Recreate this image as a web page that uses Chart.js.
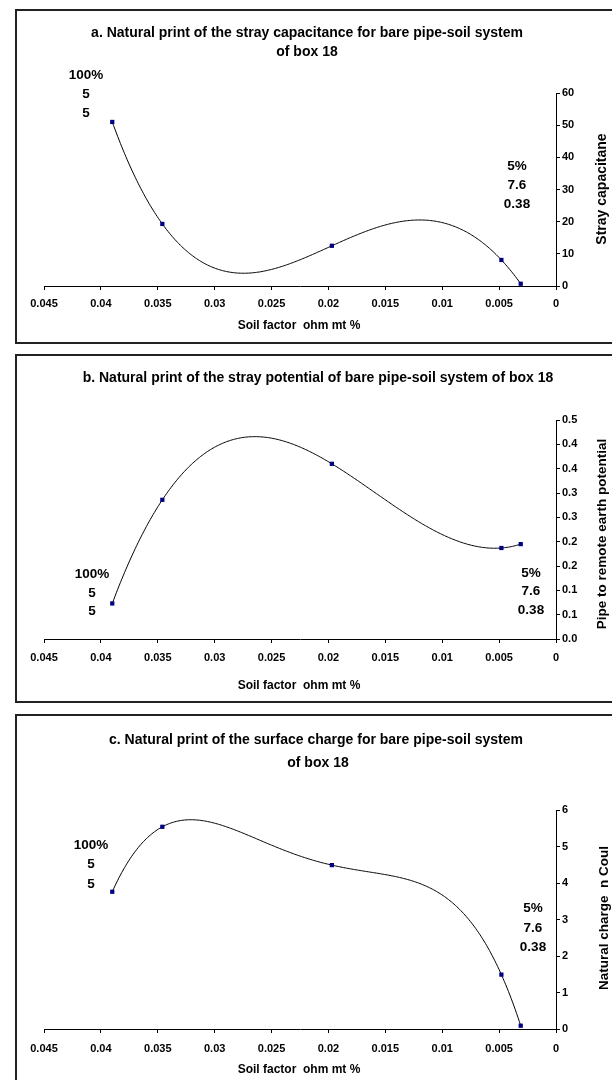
<!DOCTYPE html>
<html>
<head>
<meta charset="utf-8">
<script src="https://cdn.jsdelivr.net/npm/chart.js@4.4.0/dist/chart.umd.min.js"></script>
<style>
  body { margin: 0; width: 612px; height: 1080px; position: relative; overflow: hidden; background: #fff;
         font-family: "Liberation Sans", Arial, sans-serif; }
  .box { position: absolute; left: 15px; width: 620px; border: 2px solid #222; box-sizing: border-box; }
  canvas { position: absolute; left: 0; }
  .t { position: absolute; font-weight: bold; color: #000; white-space: pre; transform: translate(-50%, -50%); }
  .v { transform: translate(-50%, -50%) rotate(-90deg); }
</style>
</head>
<body>
<div class="box" style="top:9px;height:335px"></div>
<div class="box" style="top:354px;height:349px"></div>
<div class="box" style="top:714px;height:400px"></div>
<canvas id="chartA" width="612" height="334" style="top:9px"></canvas>
<canvas id="chartB" width="612" height="349" style="top:354px"></canvas>
<canvas id="chartC" width="612" height="366" style="top:714px"></canvas>
<script>
// soil factor (ohm mt %) for the five boxes measured
const soilFactor = [0.039, 0.0346, 0.0197, 0.0048, 0.0031];
const strayCapacitance = [51, 19.3, 12.5, 8.1, 0.7];
const strayPotential = [0.073, 0.286, 0.36, 0.187, 0.195];
const surfaceCharge = [3.76, 5.54, 4.49, 1.49, 0.09];

const xTickLabels = ["0", "0.005", "0.01", "0.015", "0.02", "0.025", "0.03", "0.035", "0.04", "0.045"];
const yTicksA = ["0", "10", "20", "30", "40", "50", "60"];
const yTicksB = ["0.0", "0.1", "0.1", "0.2", "0.2", "0.3", "0.3", "0.4", "0.4", "0.5"];
const yTicksC = ["0", "1", "2", "3", "4", "5", "6"];

const tickFont = { family: "'Liberation Sans', Arial, sans-serif", size: 11, weight: "bold" };

// Excel style polynomial trendline through the points
const trendline = {
  id: "trendline",
  beforeDatasetsDraw(chart) {
    const pts = chart.data.datasets[0].data;
    const poly = (x) => {
      let s = 0;
      for (let i = 0; i < pts.length; i++) {
        let t = pts[i].y;
        for (let j = 0; j < pts.length; j++) {
          if (j !== i) t *= (x - pts[j].x) / (pts[i].x - pts[j].x);
        }
        s += t;
      }
      return s;
    };
    const xs = pts.map((p) => p.x);
    const lo = Math.min(...xs), hi = Math.max(...xs);
    const sx = chart.scales.x, sy = chart.scales.y;
    const ctx = chart.ctx;
    ctx.save();
    ctx.beginPath();
    for (let k = 0; k <= 300; k++) {
      const x = lo + (hi - lo) * k / 300;
      const px = sx.getPixelForValue(x), py = sy.getPixelForValue(poly(x));
      if (k === 0) ctx.moveTo(px, py); else ctx.lineTo(px, py);
    }
    ctx.strokeStyle = "#000";
    ctx.lineWidth = 1;
    ctx.stroke();
    ctx.restore();
  },
};

function makeChart(id, values, yMax, yStep, yLabels, top, xHeight, tickPad) {
  new Chart(document.getElementById(id), {
    type: "scatter",
    data: {
      datasets: [{
        data: soilFactor.map((x, i) => ({ x: x, y: values[i] })),
        showLine: false,
        pointStyle: "rect",
        pointRadius: 3,
        pointHoverRadius: 3,
        pointBorderWidth: 0,
        backgroundColor: "#000080",
        borderColor: "#000080",
      }],
    },
    options: {
      responsive: false,
      animation: false,
      events: [],
      layout: { padding: { left: 44, top: top, right: 0, bottom: 0 } },
      plugins: { legend: { display: false }, tooltip: { enabled: false } },
      scales: {
        x: {
          type: "linear",
          reverse: true,
          min: 0,
          max: 0.045,
          ticks: {
            stepSize: 0.005,
            maxRotation: 0,
            autoSkip: false,
            padding: tickPad,
            color: "#000",
            font: tickFont,
            callback: (v) => xTickLabels[Math.round(v / 0.005)],
          },
          grid: { drawOnChartArea: false, drawTicks: true, tickLength: 4, color: "#000" },
          border: { display: true, color: "#000", width: 1 },
          afterFit(s) { s.height = xHeight; s.paddingLeft = 0; s.paddingRight = 0; },
        },
        y: {
          position: "right",
          min: 0,
          max: yMax,
          ticks: {
            stepSize: yStep,
            autoSkip: false,
            padding: 2,
            color: "#000",
            font: tickFont,
            callback: (v) => yLabels[Math.round(v / yStep)],
          },
          grid: { drawOnChartArea: false, drawTicks: true, tickLength: 4, color: "#000" },
          border: { display: true, color: "#000", width: 1 },
          afterFit(s) { s.width = 56; s.paddingTop = 0; s.paddingBottom = 0; },
        },
      },
    },
    plugins: [trendline],
  });
}

makeChart("chartA", strayCapacitance, 60, 10, yTicksA, 84, 57, 7);
makeChart("chartB", strayPotential, 0.45, 0.05, yTicksB, 66, 64, 8);
makeChart("chartC", surfaceCharge, 6, 1, yTicksC, 96, 51, 9);

function addText(str, x, y, size, vertical) {
  const d = document.createElement("div");
  d.className = vertical ? "t v" : "t";
  d.textContent = str;
  d.style.left = x + "px";
  d.style.top = y + "px";
  d.style.fontSize = size + "px";
  document.body.appendChild(d);
}

// titles
addText("a. Natural print of the stray capacitance for bare pipe-soil system", 307, 32, 14);
addText("of box 18", 307, 51, 14);
addText("b. Natural print of the stray potential of bare pipe-soil system of box 18", 318, 377, 14);
addText("c. Natural print of the surface charge for bare pipe-soil system", 316, 739, 14);
addText("of box 18", 318, 762, 14);

// axis titles
addText("Soil factor  ohm mt %", 299, 325, 12);
addText("Soil factor  ohm mt %", 299, 685, 12);
addText("Soil factor  ohm mt %", 299, 1069, 12);
addText("Stray capacitane", 601, 189, 14, true);
addText("Pipe to remote earth potential", 601, 534, 13.5, true);
addText("Natural charge  n Coul", 603, 918, 13.5, true);

// end labels: percentage and soil factors
[["100%", 86, 74], ["5", 86, 93], ["5", 86, 112], ["5%", 517, 165], ["7.6", 517, 184], ["0.38", 517, 203],
 ["100%", 92, 573], ["5", 92, 592], ["5", 92, 610], ["5%", 531, 572], ["7.6", 531, 590], ["0.38", 531, 609],
 ["100%", 91, 844], ["5", 91, 863], ["5", 91, 883], ["5%", 533, 907], ["7.6", 533, 927], ["0.38", 533, 946]]
  .forEach((a) => addText(a[0], a[1], a[2], 13.5));
</script>
</body>
</html>
